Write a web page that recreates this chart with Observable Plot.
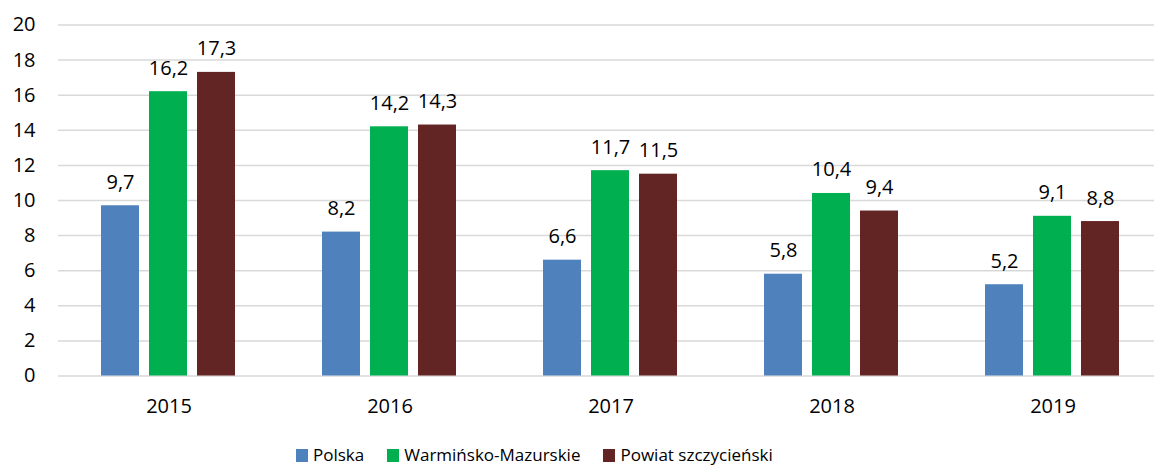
<!DOCTYPE html>
<html><head><meta charset="utf-8">
<script src="https://cdn.jsdelivr.net/npm/d3@7"></script>
<script src="https://cdn.jsdelivr.net/npm/@observablehq/plot@0.6"></script>
<style>
html,body{margin:0;padding:0;background:#fff;overflow:hidden;}
#wrap{width:1154px;}
#legend{display:flex;align-items:center;height:20px;line-height:20px;margin-top:-3px;padding-left:296px;font-family:"Open Sans",sans-serif;font-size:17px;color:#000;}
#legend .item{display:flex;align-items:center;margin-right:23px;}
#legend .sw{width:12px;height:13px;margin-right:5px;}
</style></head><body>
<div id="wrap"><div id="chart"></div><div id="legend"></div></div>
<script>
const years = ["2015","2016","2017","2018","2019"];
const series = ["Polska","Warmińsko-Mazurskie","Powiat szczycieński"];
const polska = [9.7, 8.2, 6.6, 5.8, 5.2];
const warminsko = [16.2, 14.2, 11.7, 10.4, 9.1];
const powiat = [17.3, 14.3, 11.5, 9.4, 8.8];
const colors = ["#4F81BD", "#00B050", "#632523"];
const yTicks = [0, 2, 4, 6, 8, 10, 12, 14, 16, 18, 20];

const seriesValues = [polska, warminsko, powiat];
const data = years.flatMap((y, i) => series.map((s, j) => ({year: y, series: s, value: seriesValues[j][i]})));
const fmt = v => v.toFixed(1).replace(".", ",");

const H = 448;
const chart = Plot.plot({
  width: 1154, height: H,
  marginLeft: 57, marginRight: 0, marginTop: 24.5, marginBottom: H - 375.5,
  style: {fontFamily: "Open Sans, sans-serif", fontSize: "20px", color: "#000", background: "#fff"},
  fx: {domain: years, range: [57.3, 1164.3], paddingInner: 0, paddingOuter: 0, label: null},
  x: {domain: series, paddingInner: 0.206, paddingOuter: 0.886, axis: null},
  y: {domain: [0, 20], label: null},
  color: {domain: series, range: colors},
  marks: [
    Plot.ruleY(yTicks, {stroke: "#d9d9d9", strokeWidth: 1.5}),
    Plot.axisY(yTicks, {tickSize: 0, tickPadding: 23, label: null, fontSize: 20}),
    Plot.axisFx({anchor: "bottom", tickSize: 0, tickPadding: 23, label: null, fontSize: 20}),
    Plot.barY(data, {fx: "year", x: "series", y: "value", fill: "series"}),
    Plot.text(data, {fx: "year", x: "series", y: "value", text: d => fmt(d.value), dy: -17, lineAnchor: "bottom", fontSize: 20, fill: "#000"})
  ]
});
document.getElementById("chart").appendChild(chart);

const legend = document.getElementById("legend");
series.forEach((s, i) => {
  const item = document.createElement("div");
  item.className = "item";
  const sw = document.createElement("span");
  sw.className = "sw";
  sw.style.background = colors[i];
  const t = document.createElement("span");
  t.textContent = s;
  item.appendChild(sw); item.appendChild(t);
  legend.appendChild(item);
});
</script>
</body></html>
